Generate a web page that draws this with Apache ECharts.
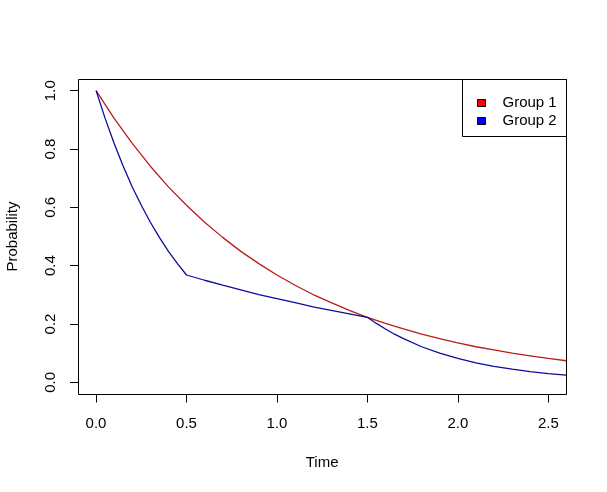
<!DOCTYPE html>
<html>
<head>
<meta charset="utf-8">
<script src="https://cdn.jsdelivr.net/npm/echarts@6/dist/echarts.min.js"></script>
<style>
  html, body { margin: 0; padding: 0; background: #fff; }
  #chart { width: 607px; height: 492px; }
</style>
</head>
<body>
<div id="chart"></div>
<script>
// values
const time1 = [0, 0.1, 0.2, 0.3, 0.4, 0.5, 0.6, 0.7, 0.8, 0.9, 1.0, 1.1, 1.2, 1.3,
  1.4, 1.5, 1.6, 1.7, 1.8, 1.9, 2.0, 2.1, 2.2, 2.3, 2.4, 2.5, 2.6];
const group1 = [1, 0.905, 0.819, 0.741, 0.670, 0.607, 0.549, 0.497, 0.449, 0.407,
  0.368, 0.333, 0.301, 0.273, 0.247, 0.223, 0.202, 0.183, 0.165, 0.150, 0.135,
  0.122, 0.111, 0.100, 0.091, 0.082, 0.074];

const time2 = [0, 0.05, 0.1, 0.15, 0.2, 0.25, 0.3, 0.35, 0.4, 0.45, 0.5, 0.6, 0.7,
  0.8, 0.9, 1.0, 1.1, 1.2, 1.3, 1.4, 1.5, 1.55, 1.6, 1.65, 1.7, 1.8, 1.9, 2.0,
  2.1, 2.2, 2.3, 2.4, 2.5, 2.6];
const group2 = [1, 0.905, 0.819, 0.741, 0.670, 0.607, 0.549, 0.497, 0.449, 0.407,
  0.368, 0.350, 0.333, 0.317, 0.301, 0.287, 0.273, 0.259, 0.247, 0.235, 0.223,
  0.202, 0.183, 0.165, 0.150, 0.122, 0.100, 0.082, 0.067, 0.055, 0.045, 0.037,
  0.030, 0.025];

const names = ["Group 1", "Group 2"];

const font = "Liberation Sans, Arial, sans-serif";
const pairs = (xs, ys) => xs.map((x, i) => [x, ys[i]]);

const chart = echarts.init(document.getElementById("chart"), null, { renderer: "canvas" });

const labelStyle = { fontFamily: font, fontSize: 15, color: "#000" };
const tickLine = { show: true, lineStyle: { color: "#000", width: 1 } };
const off = { show: false };

// grid 0 = plot region (R pads the range 4%)
// grid 1 = strip left of the box holding the y ticks, grid 2 = strip under it for x ticks
const option = {
  animation: false,
  backgroundColor: "#fff",
  textStyle: { fontFamily: font, color: "#000" },
  grid: [
    { left: 78, top: 79, right: 40.7, bottom: 98, outerBoundsMode: "none", show: false },
    { left: 70, width: 8, top: 90.7, bottom: 109.7, outerBoundsMode: "none", show: false },
    { left: 96, right: 58.6, top: 394.5, height: 8, outerBoundsMode: "none", show: false }
  ],
  legend: {
    orient: "vertical",
    left: 477, top: 94,
    padding: 0, itemGap: 0,
    icon: "rect", itemWidth: 8, itemHeight: 7,
    textStyle: { fontFamily: font, fontSize: 15, color: "#000", lineHeight: 18, padding: [0, 0, 0, 12] },
    data: [
      { name: names[0], itemStyle: { color: "#ff0000", borderColor: "#000", borderWidth: 1 } },
      { name: names[1], itemStyle: { color: "#0000ff", borderColor: "#000", borderWidth: 1 } }
    ]
  },
  graphic: [
    {
      // plot box
      type: "rect", z: 10, silent: true,
      shape: { x: 78.5, y: 79.5, width: 488, height: 315 },
      style: { fill: "none", stroke: "#000", lineWidth: 1 }
    },
    {
      // legend box
      type: "rect", z: 10, silent: true,
      shape: { x: 462.5, y: 79.5, width: 104, height: 57 },
      style: { fill: "none", stroke: "#000", lineWidth: 1 }
    }
  ],
  xAxis: [
    {
      gridIndex: 0, type: "value", min: -0.1, max: 2.6,
      name: "Time", nameLocation: "middle", nameGap: 61,
      nameTextStyle: labelStyle,
      axisLine: { show: false, onZero: false },
      axisTick: off, axisLabel: off, splitLine: off
    },
    {
      gridIndex: 1, type: "value", min: 0, max: 1,
      axisLine: off, axisTick: off, axisLabel: off, splitLine: off
    },
    {
      gridIndex: 2, type: "value", min: 0, max: 2.5, interval: 0.5,
      axisLine: { show: false, onZero: false }, axisTick: off,
      axisLabel: Object.assign({ margin: 14, formatter: v => v.toFixed(1) }, labelStyle),
      splitLine: tickLine
    }
  ],
  yAxis: [
    {
      gridIndex: 0, type: "value", min: -0.04, max: 1.04,
      name: "Probability", nameLocation: "middle", nameGap: 58, nameRotate: 90,
      nameTextStyle: labelStyle,
      axisLine: { show: false, onZero: false },
      axisTick: off, axisLabel: off, splitLine: off
    },
    {
      gridIndex: 1, type: "value", min: 0, max: 1, interval: 0.2,
      axisLine: { show: false, onZero: false }, axisTick: off,
      axisLabel: Object.assign({ margin: 12, rotate: 90, formatter: v => v.toFixed(1) }, labelStyle),
      splitLine: tickLine
    },
    {
      gridIndex: 2, type: "value", min: 0, max: 1,
      axisLine: off, axisTick: off, axisLabel: off, splitLine: off
    }
  ],
  series: [
    {
      name: names[0], type: "line", data: pairs(time1, group1),
      xAxisIndex: 0, yAxisIndex: 0,
      showSymbol: false, smooth: false, clip: true,
      itemStyle: { color: "#ff0000" },
      lineStyle: { color: "#b81c1c", width: 1.3 }
    },
    {
      name: names[1], type: "line", data: pairs(time2, group2),
      xAxisIndex: 0, yAxisIndex: 0,
      showSymbol: false, smooth: false, clip: true,
      itemStyle: { color: "#0000ff" },
      lineStyle: { color: "#0c0c9c", width: 1.3 }
    }
  ]
};

chart.setOption(option);
</script>
</body>
</html>
